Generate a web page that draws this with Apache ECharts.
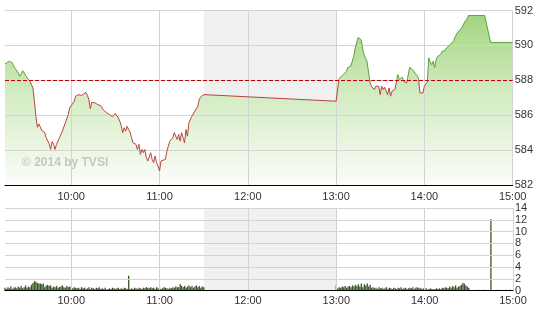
<!DOCTYPE html>
<html><head><meta charset="utf-8">
<script src="https://cdn.jsdelivr.net/npm/echarts@6/dist/echarts.min.js"></script>
<style>html,body{margin:0;padding:0;background:#fff}#c{width:536px;height:314px}</style>
</head><body><div id="c"></div>
<script>
// ---- data ----
const priceTimes = [
"09:15","09:18","09:20","09:21","09:22","09:24","09:25","09:26","09:27","09:29","09:30","09:32","09:34","09:35","09:36","09:37","09:38","09:39","09:40","09:42","09:43","09:45","09:46","09:47","09:48","09:49","09:50","09:52","09:54","09:56","09:58","09:59",
"10:00","10:02","10:03","10:05","10:06","10:07","10:08","10:10","10:11","10:12","10:13","10:14","10:15","10:16","10:18","10:19","10:20","10:22","10:24","10:25","10:26","10:28","10:29","10:30","10:32","10:33","10:34","10:35","10:36","10:37","10:38","10:39","10:40","10:41","10:42","10:43","10:44","10:45","10:46","10:47","10:48","10:49","10:50","10:51","10:52","10:53","10:54","10:55","10:56","10:57","10:58","10:59",
"11:00","11:01","11:02","11:04","11:05","11:06","11:07","11:08","11:09","11:10","11:11","11:12","11:13","11:14","11:15","11:16","11:17","11:18","11:19","11:20","11:22","11:23","11:24","11:25","11:26","11:27","11:28","11:30",
"13:00","13:02","13:03","13:05","13:07","13:08","13:10","13:11","13:12","13:13","13:14","13:15","13:16","13:17","13:18","13:19","13:20","13:21","13:22","13:23","13:24","13:25","13:26","13:27","13:28","13:29","13:30","13:31","13:32","13:33","13:34","13:35","13:36","13:37","13:38","13:39","13:40","13:41","13:42","13:43","13:44","13:45","13:46","13:48","13:49","13:50","13:52","13:53","13:54","13:56","13:57","13:59",
"14:00","14:01","14:02","14:03","14:04","14:05","14:06","14:07","14:08","14:09","14:11","14:12","14:13","14:14","14:15","14:16","14:18","14:19","14:20","14:21","14:22","14:23","14:25","14:26","14:27","14:28","14:29","14:30","14:41","14:45","15:00"
];
const priceValues = [
588.94,589.09,589.00,588.80,588.67,588.42,588.23,588.37,588.55,588.29,588.14,587.94,587.56,586.80,585.94,585.31,585.50,585.43,585.13,585.00,584.71,584.37,584.04,584.48,584.33,584.04,584.33,584.71,585.09,585.57,586.04,586.42,
586.51,586.80,587.09,587.18,587.09,587.13,587.05,587.31,587.13,586.90,586.37,586.74,586.67,586.71,586.61,586.61,586.55,586.29,586.14,586.14,586.04,585.91,585.98,586.10,585.85,585.66,585.41,585.00,585.28,585.09,585.37,585.18,585.03,584.71,584.42,584.51,584.33,584.04,584.33,583.75,584.04,583.85,584.04,583.57,583.37,583.47,583.85,583.47,583.28,583.66,583.28,583.09,
582.80,583.37,583.47,583.47,583.94,584.23,584.51,584.42,584.71,585.00,584.80,584.61,584.90,584.51,585.00,584.71,584.42,585.18,584.80,585.57,585.94,585.85,586.23,586.14,586.51,586.90,587.05,587.18,
586.80,588.10,588.17,588.33,588.51,588.74,588.80,588.90,589.37,589.85,590.14,590.46,590.57,590.33,589.85,589.47,589.28,589.09,589.00,587.90,587.66,587.75,587.47,587.66,587.56,587.66,587.18,587.66,587.47,587.60,587.66,587.18,587.56,587.09,587.37,587.28,587.47,587.37,588.33,588.04,588.10,588.17,587.94,587.85,587.94,588.74,588.61,588.51,588.37,588.14,587.28,587.28,
587.66,587.75,587.88,589.28,589.05,588.90,589.09,588.71,589.18,589.37,589.47,589.66,589.75,589.70,589.85,589.75,590.08,590.04,590.27,590.51,590.61,590.80,590.95,591.03,591.28,591.41,591.53,591.71,591.71,590.17,590.17
];
const refPrice = 588;
const priceMin = 582, priceMax = 592, priceStep = 2;
const hourTicks = ["10:00","11:00","12:00","13:00","14:00","15:00"];
const sessionStart = "09:15", sessionEnd = "15:00";
const lunchBreak = ["11:30","13:00"];

const volAMStart = "09:15";
const volAM = [
0.5,0.3,0.6,0.4,0.7,0.3,0.5,0.6,0.4,0.7,
0.5,0.8,0.4,0.6,0.9,0.5,0.7,0.6,1.0,1.3,
1.6,1.5,1.3,1.2,1.2,1.1,1.2,0.6,0.9,1.0,
0.8,0.9,0.5,0.7,0.6,0.8,0.5,0.6,0.7,0.9,
0.6,0.5,0.8,0.6,0.7,0.5,0.4,0.6,0.5,0.4,
0.5,0.3,0.6,0.4,0.5,0.3,0.4,0.6,0.3,0.5,
0.4,0.3,0.5,0.4,0.6,0.3,0.4,0.3,0.5,0.2,
0.3,0.4,0.3,0.5,0.4,0.3,0.4,0.5,0.3,0.4,
0.3,0.5,0.4,0.3,2.55,0.3,0.4,0.3,0.5,0.4,
0.3,0.5,0.4,0.3,0.5,0.4,0.6,0.5,0.4,0.6,
0.4,0.5,0.3,0.6,0.4,0.5,0.3,0.4,0.6,0.5,
0.4,0.3,0.5,0.4,0.6,0.5,0.7,0.6,0.6,1.15,
0.8,0.6,0.8,0.5,0.7,0.9,0.6,0.8,0.5,0.7,
0.9,0.6,0.8,0.5,0.7,0.6
];
const volPMStart = "13:00";
const volPM = [
0.95,0.4,0.6,0.5,0.7,0.6,0.8,0.5,0.7,0.8,
0.6,0.9,0.7,1.0,0.8,1.1,0.7,1.2,0.6,1.1,
0.9,1.2,0.7,1.0,0.5,0.6,0.4,0.5,0.3,0.6,
0.4,0.5,0.3,0.4,0.6,0.3,0.5,0.4,0.3,0.5,
0.4,0.3,0.5,0.4,0.6,0.3,0.4,0.5,0.3,0.4,
0.5,0.4,0.6,0.3,0.5,0.6,0.4,0.5,0.3,0.4,
0.3,0.4,0.2,0.3,0.4,0.3,0.2,0.3,0.4,0.3,
0.4,0.3,0.5,0.4,0.6,0.5,0.4,0.7,0.5,0.8,
0.6,0.9,0.5,0.7,0.8,1.0,1.3,1.2,0.9,0.7,
0.5
];
const volLateTimes = ["14:36","14:41","14:45","14:50","14:55","14:58"];
const volLateValues = [0.15,0.15,12.1,0.15,0.15,0.15];
const volMin = 0, volMax = 14, volStep = 2;
const watermark = "\u00a9 2014 by TVSI";

// ---- helpers ----
function toMin(s){const p=s.split(":");return (+p[0])*60+(+p[1]);}
function fmt(m){const h=Math.floor(m/60),mm=m%60;return (h<10?"0":"")+h+":"+(mm<10?"0":"")+mm;}
const priceData = priceTimes.map((t,i)=>[toMin(t),priceValues[i]]);
const volData = [];
volAM.forEach((v,i)=>volData.push([toMin(volAMStart)+i,v]));
volPM.forEach((v,i)=>volData.push([toMin(volPMStart)+i,v]));
volLateTimes.forEach((t,i)=>volData.push([toMin(t),volLateValues[i]]));
const hourVals = hourTicks.map(toMin);
const lunchData = [[toMin(lunchBreak[0]), toMin(lunchBreak[1])]];

const FONT = '"Liberation Sans", Arial, sans-serif';
const gridColor = '#d3d3d3';
function xAxisOpt(gi){
  return {type:'value', gridIndex:gi, min:toMin(sessionStart), max:toMin(sessionEnd), z:3,
    axisLine:{show:true,lineStyle:{color:'#000',width:1}},
    axisTick:{show:false, customValues:hourVals},
    axisLabel:{customValues:hourVals, formatter:v=>fmt(v), color:'#333', fontSize:11, fontFamily:FONT, margin:gi===0?6:5},
    splitLine:{show:true,lineStyle:{color:gridColor,width:1}}};
}
function yAxisOpt(gi,min,max,step){
  return {type:'value', gridIndex:gi, position:'right', min:min, max:max, interval:step, z:3,
    axisLine:{show:false}, axisTick:{show:false},
    axisLabel:{color:'#333', fontSize:11, fontFamily:FONT, margin:2},
    splitLine:{show:true,lineStyle:{color:gridColor,width:1}}};
}
function lunchSeries(gi,yMin,yMax){
  return {type:'custom', xAxisIndex:gi, yAxisIndex:gi, z:1, silent:true, data:lunchData,
    encode:{x:[0,1]},
    renderItem:function(params, api){
      const p0 = api.coord([api.value(0), yMax]);
      const p1 = api.coord([api.value(1), yMin]);
      return {type:'rect', shape:{x:p0[0], y:p0[1], width:p1[0]-p0[0], height:p1[1]-p0[1]},
        style:{fill:'#f0f0f0'}};
    }};
}

const chart = echarts.init(document.getElementById('c'), null, {renderer:'canvas'});
chart.setOption({
  animation:false,
  backgroundColor:'#fff',
  grid:[
    {left:5, right:23, top:10.5, height:174.5},
    {left:5, right:23, top:208, height:82.7}
  ],
  xAxis:[xAxisOpt(0), xAxisOpt(1)],
  yAxis:[yAxisOpt(0,priceMin,priceMax,priceStep), yAxisOpt(1,volMin,volMax,volStep)],
  visualMap:[{type:'piecewise', show:false, seriesIndex:2, dimension:1,
    pieces:[{gte:500, lte:refPrice, color:'#b5443f'},{gt:refPrice, lte:700, color:'#5a9f3e'}]}],
  graphic:[{type:'text', left:22, top:157, z:10, silent:true,
    style:{text:watermark, font:'bold 12px '+FONT, fill:'#c6c6c6'}}],
  series:[
    lunchSeries(0,priceMin,priceMax),
    {type:'line', xAxisIndex:0, yAxisIndex:0, data:priceData, z:2, symbol:'none', silent:true,
      lineStyle:{width:0,opacity:0},
      areaStyle:{opacity:1, color:{type:'linear',x:0,y:0,x2:0,y2:1,colorStops:[
        {offset:0,color:'#a2d57f'},{offset:0.45,color:'#d2ebc1'},{offset:1,color:'#fbfdf9'}]}}},
    {type:'line', xAxisIndex:0, yAxisIndex:0, data:priceData, z:4, symbol:'none', silent:true,
      lineStyle:{width:1},
      markLine:{silent:true, symbol:'none', label:{show:false},
        lineStyle:{color:'#c00000', type:[4,2], width:1},
        data:[{yAxis:refPrice}]}},
    lunchSeries(1,volMin,volMax),
    {type:'bar', xAxisIndex:1, yAxisIndex:1, data:volData, z:2, barWidth:1.3, silent:true,
      itemStyle:{color:'#385628'}}
  ]
});
</script>
</body></html>
